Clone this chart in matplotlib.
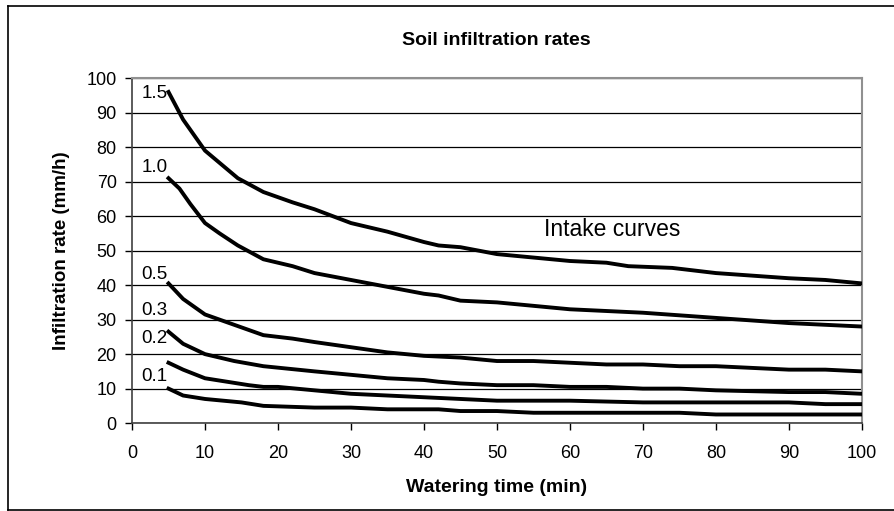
import matplotlib.pyplot as plt
from matplotlib.lines import Line2D

plt.rcParams['font.family'] = ['Liberation Sans', 'DejaVu Sans']

# watering time (min) and intake rates (mm/h) for each curve
t15 = [5, 7, 10, 14.5, 18, 22, 25, 30, 35, 40, 42, 45, 50, 55, 60, 65, 68, 74, 80, 90, 95, 100]
r15 = [96, 88, 79, 71, 67, 64, 62, 58, 55.5, 52.5, 51.5, 51, 49, 48, 47, 46.5, 45.5, 45, 43.5, 42, 41.5, 40.5]

t10 = [5, 6.5, 8, 10, 12, 14.5, 18, 22, 25, 30, 35, 40, 42, 45, 50, 55, 60, 70, 80, 90, 100]
r10 = [71, 68, 63.5, 58, 55, 51.5, 47.5, 45.5, 43.5, 41.5, 39.5, 37.5, 37, 35.5, 35, 34, 33, 32, 30.5, 29, 28]

t05 = [5, 7, 10, 14, 18, 22, 25, 30, 35, 40, 45, 50, 55, 60, 65, 70, 75, 80, 90, 95, 100]
r05 = [40.5, 36, 31.5, 28.5, 25.5, 24.5, 23.5, 22, 20.5, 19.5, 19, 18, 18, 17.5, 17, 17, 16.5, 16.5, 15.5, 15.5, 15]

t03 = [5, 7, 10, 14, 18, 25, 30, 35, 40, 42, 45, 50, 55, 60, 65, 70, 75, 80, 90, 95, 100]
r03 = [26.5, 23, 20, 18, 16.5, 15, 14, 13, 12.5, 12, 11.5, 11, 11, 10.5, 10.5, 10, 10, 9.5, 9, 9, 8.5]

t02 = [5, 7, 10, 13, 16, 18, 20, 25, 30, 35, 40, 45, 50, 60, 70, 80, 90, 95, 100]
r02 = [17.5, 15.5, 13, 12, 11, 10.5, 10.5, 9.5, 8.5, 8, 7.5, 7, 6.5, 6.5, 6, 6, 6, 5.5, 5.5]

t01 = [5, 7, 10, 15, 18, 25, 30, 35, 42, 45, 50, 55, 75, 80, 100]
r01 = [10, 8, 7, 6, 5, 4.5, 4.5, 4, 4, 3.5, 3.5, 3, 3, 2.5, 2.5]

curve_labels = ['1.5', '1.0', '0.5', '0.3', '0.2', '0.1']
label_y = [95.5, 74, 43, 32.6, 24.5, 13.5]

fig = plt.figure(figsize=(8.95, 5.11), dpi=100)
ax = fig.add_axes([0.1475, 0.172, 0.8155, 0.675])

for t, r in [(t15, r15), (t10, r10), (t05, r05), (t03, r03), (t02, r02), (t01, r01)]:
    ax.plot(t, r, color='black', lw=2.8, solid_joinstyle='round', zorder=3)

for lab, y in zip(curve_labels, label_y):
    ax.text(1.3, y, lab, fontsize=13.5, ha='left', va='center')
ax.text(56.5, 56, 'Intake curves', fontsize=16.5, ha='left', va='center')

ax.set_xlim(0, 100)
ax.set_ylim(0, 100)
ax.set_xticks(range(0, 101, 10))
ax.set_yticks(range(0, 101, 10))
ax.tick_params(labelsize=13, length=5, width=1, direction='out', pad=6)
ax.tick_params(axis='x', pad=11)
ax.yaxis.grid(True, color='black', lw=0.9)
ax.set_axisbelow(True)
for s in ['top', 'right']:
    ax.spines[s].set_color('#909090')
    ax.spines[s].set_linewidth(1.5)
for s in ['left', 'bottom']:
    ax.spines[s].set_color('#404040')
    ax.spines[s].set_linewidth(1.2)

ax.set_xlabel('Watering time (min)', fontsize=14, fontweight='bold', labelpad=12)
ax.set_ylabel('Infiltration rate (mm/h)', fontsize=13.5, fontweight='bold', labelpad=12)
fig.text(0.555, 0.921, 'Soil infiltration rates', fontsize=14, fontweight='bold',
         ha='center', va='center')

# outer chart border
W, H = 895, 511
fig.add_artist(Line2D([8 / W, 8 / W], [1 - 6 / H, 1.5 / H], transform=fig.transFigure, color='black', lw=1.2))
fig.add_artist(Line2D([8 / W, 1], [1 - 6 / H, 1 - 6 / H], transform=fig.transFigure, color='black', lw=1.2))
fig.add_artist(Line2D([8 / W, 1], [1.5 / H, 1.5 / H], transform=fig.transFigure, color='black', lw=1.2))

fig.savefig('out.png', dpi=100)
